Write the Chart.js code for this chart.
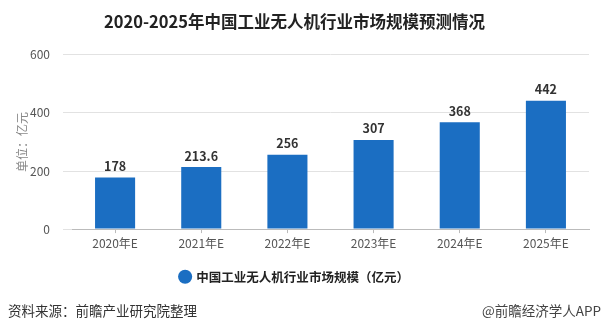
<!DOCTYPE html>
<html lang="zh">
<head>
  <meta charset="UTF-8">
  <title>2020-2025年中国工业无人机行业市场规模预测情况</title>
  <script src="https://cdn.jsdelivr.net/npm/chart.js"></script>
  <style>
    html, body { margin: 0; padding: 0; background: #fff; }
    body { width: 605px; height: 331px; position: relative; overflow: hidden;
           font-family: "Noto Sans CJK SC", "Noto Sans", sans-serif; }
    #wrap { position: absolute; left: 0; top: 0; width: 605px; height: 331px; }
    .foot { position: absolute; top: 300px; font-size: 13.5px; line-height: 20px; color: #333; }
    #src { left: 8px; }
    #app { left: 482px; color: #444; white-space: nowrap; }
  </style>
</head>
<body>
  <div id="wrap"><canvas id="chart"></canvas></div>
  <div class="foot" id="src">资料来源：前瞻产业研究院整理</div>
  <div class="foot" id="app">@前瞻经济学人APP</div>

  <script>
    const categories = ['2020年E', '2021年E', '2022年E', '2023年E', '2024年E', '2025年E'];
    const marketSize = [178, 213.6, 256, 307, 368, 442];
    const yTicks = [0, 200, 400, 600];

    const fontCJK = '"Noto Sans CJK SC", "Noto Sans", sans-serif';

    // 柱顶数值
    const valueLabels = {
      id: 'valueLabels',
      afterDatasetsDraw(chart) {
        const ctx = chart.ctx;
        const meta = chart.getDatasetMeta(0);
        ctx.save();
        ctx.font = 'bold 12.5px ' + fontCJK;
        ctx.fillStyle = '#333';
        ctx.textAlign = 'center';
        ctx.textBaseline = 'bottom';
        meta.data.forEach((bar, i) => {
          ctx.fillText(String(marketSize[i]), bar.x, bar.y - 5);
        });
        ctx.restore();
      }
    };

    new Chart(document.getElementById('chart'), {
      type: 'bar',
      data: {
        labels: categories,
        datasets: [{
          label: '中国工业无人机行业市场规模（亿元）',
          data: marketSize,
          backgroundColor: '#1B6EC2',
          borderWidth: 0,
          barPercentage: 0.93,
          categoryPercentage: 0.5
        }]
      },
      options: {
        responsive: true,
        maintainAspectRatio: false,
        animation: false,
        layout: { padding: { left: 0, right: 16, top: 0, bottom: 38 } },
        plugins: {
          title: {
            display: true,
            text: '2020-2025年中国工业无人机行业市场规模预测情况',
            color: '#222',
            font: { family: fontCJK, size: 16.5, weight: 'bold' },
            padding: { top: 12, bottom: 23 }
          },
          legend: {
            display: true,
            position: 'bottom',
            labels: {
              usePointStyle: true,
              pointStyle: 'circle',
              boxWidth: 10,
              boxHeight: 10,
              color: '#222',
              padding: 10,
              font: { family: fontCJK, size: 12.5, weight: 'bold' }
            }
          },
          tooltip: { enabled: false }
        },
        scales: {
          x: {
            afterFit(scale) { scale.height += 7; },
            grid: { display: true, drawOnChartArea: false, drawTicks: true, tickLength: 4, offset: false, color: '#bbb' },
            border: { display: true, color: '#bbb' },
            ticks: { color: '#555', padding: 3, font: { family: fontCJK, size: 12 } }
          },
          y: {
            min: 0,
            max: 600,
            afterBuildTicks(scale) { scale.ticks = yTicks.map(v => ({ value: v })); },
            afterFit(scale) { scale.width = 72; },
            grid: { color: '#e2e2e2', drawTicks: true, tickLength: 9 },
            border: { display: false },
            ticks: { color: '#555', padding: 13, font: { family: fontCJK, size: 12 } },
            title: {
              display: true,
              text: '单位：亿元',
              color: '#888',
              padding: { top: 15, bottom: 0 },
              font: { family: fontCJK, size: 12 }
            }
          }
        }
      },
      plugins: [valueLabels]
    });
  </script>
</body>
</html>
